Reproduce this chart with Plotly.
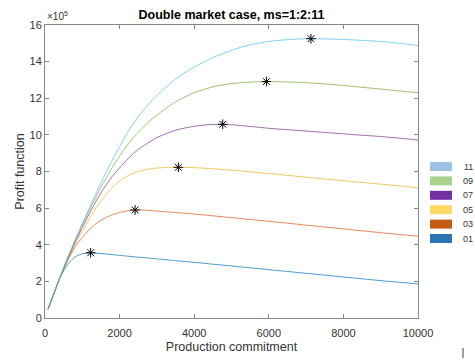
import plotly.graph_objects as go

# ---- data (profit in units of 1e5) ----
x_grid = [80, 200, 400, 600, 800, 1000, 1200, 1400, 1600, 1800, 2000, 2250, 2500, 2750,
          3000, 3500, 4000, 4500, 5000, 5500, 6000, 6500, 7000, 7500, 8000, 8500, 9000,
          9500, 10000]

profit_01 = [0.48, 1.12, 2.2, 2.9, 3.33, 3.5, 3.56, 3.54, 3.5, 3.46, 3.42, 3.37, 3.32, 3.28,
             3.23, 3.13, 3.04, 2.94, 2.84, 2.74, 2.64, 2.54, 2.44, 2.34, 2.24, 2.14, 2.04,
             1.95, 1.86]
profit_03 = [0.48, 1.12, 2.2, 3.1, 3.85, 4.4, 4.85, 5.2, 5.45, 5.63, 5.76, 5.87, 5.9, 5.88,
             5.84, 5.76, 5.68, 5.58, 5.48, 5.38, 5.28, 5.18, 5.07, 4.97, 4.87, 4.76, 4.66,
             4.56, 4.47]
profit_05 = [0.48, 1.12, 2.2, 3.15, 4.0, 4.75, 5.45, 6.1, 6.65, 7.12, 7.48, 7.8, 8.0, 8.12,
             8.19, 8.23, 8.21, 8.15, 8.07, 7.98, 7.89, 7.79, 7.69, 7.59, 7.5, 7.4, 7.31,
             7.21, 7.11]
profit_07 = [0.48, 1.12, 2.2, 3.2, 4.1, 4.95, 5.75, 6.5, 7.15, 7.72, 8.2, 8.75, 9.2, 9.55,
             9.85, 10.25, 10.47, 10.57, 10.55, 10.46, 10.36, 10.28, 10.21, 10.13, 10.06,
             9.98, 9.91, 9.82, 9.72]
profit_09 = [0.48, 1.12, 2.2, 3.25, 4.2, 5.1, 5.95, 6.75, 7.5, 8.2, 8.85, 9.55, 10.15, 10.65,
             11.08, 11.8, 12.3, 12.62, 12.8, 12.88, 12.91, 12.89, 12.85, 12.78, 12.7, 12.6,
             12.5, 12.4, 12.3]
profit_11 = [0.48, 1.12, 2.2, 3.25, 4.2, 5.15, 6.05, 6.95, 7.8, 8.6, 9.35, 10.25, 11.0, 11.62,
             12.15, 13.05, 13.7, 14.22, 14.62, 14.92, 15.1, 15.2, 15.25, 15.24, 15.21, 15.16,
             15.1, 15.0, 14.88]

peak_x = [1225, 2415, 3575, 4765, 5935, 7130]
peak_y = [3.56, 5.9, 8.23, 10.58, 12.91, 15.25]

series_names = ["01", "03", "05", "07", "09", "11"]
series_values = [profit_01, profit_03, profit_05, profit_07, profit_09, profit_11]

# ---- styles ----
line_colors = ["#0072BD", "#D95319", "#EDB120", "#7E2F8E", "#77AC30", "#4DBEEE"]
legend_colors = ["#2E75B6", "#C55A11", "#FFD966", "#7030A0", "#A9D18E", "#9DC3E6"]

fig = go.Figure()
for name, vals, col in zip(series_names, series_values, line_colors):
    fig.add_trace(go.Scatter(
        x=x_grid, y=vals, mode="lines", name=name, showlegend=False,
        line=dict(color=col, width=1, shape="spline", smoothing=0.8), opacity=0.7))

fig.add_trace(go.Scatter(
    x=peak_x, y=peak_y, mode="markers", showlegend=False,
    marker=dict(symbol="asterisk-open", size=8, color="black",
                line=dict(color="black", width=1))))

axis_col = "#7d8a92"
FONT = "Liberation Sans, Arial"
tick_font = dict(family=FONT, size=11, color="#333333")

fig.update_layout(
    width=475, height=360,
    margin=dict(l=45, r=57, t=25, b=42),
    paper_bgcolor="white", plot_bgcolor="white",
    showlegend=False,
    title=dict(text="<b>Double market case, ms=1:2:11</b>", x=(45 + 418) / 2 / 475,
               xanchor="center", y=1 - 15 / 360, yanchor="middle",
               font=dict(family=FONT, size=12.5, color="black")),
    xaxis=dict(range=[0, 10000], dtick=2000, tickformat="d", showgrid=False, zeroline=False,
               showline=True, linecolor=axis_col, linewidth=1, mirror="ticks",
               ticks="inside", ticklen=4, tickcolor=axis_col, tickfont=tick_font,
               ticklabelstandoff=5, automargin=False,
               title=dict(text="Production commitment", standoff=4,
                          font=dict(family=FONT, size=12.5, color="#333333"))),
    yaxis=dict(range=[0, 16], dtick=2, tickformat="d", showgrid=False, zeroline=False,
               showline=True, linecolor=axis_col, linewidth=1, mirror="ticks",
               ticks="inside", ticklen=4, tickcolor=axis_col, tickfont=tick_font,
               automargin=False,
               title=dict(text="Profit function", standoff=2,
                          font=dict(family=FONT, size=12.5, color="#333333"))),
)

# exponent label
fig.add_annotation(text="×10<sup>5</sup>", xref="paper", yref="paper", x=0, y=1,
                   xanchor="left", yanchor="bottom", showarrow=False, yshift=1,
                   font=dict(family=FONT, size=10, color="#333333"))

# manual legend (colour boxes + labels), top to bottom: 11 ... 01
legend_order = list(range(len(series_names)))[::-1]
row_top = 162
row_gap = 14.4
for i, idx in enumerate(legend_order):
    yc = row_top + i * row_gap + 4.5
    fig.add_shape(type="rect", xref="paper", yref="paper",
                  x0=(430 - 45) / 373, x1=(452 - 45) / 373,
                  y0=(318 - (yc + 4.5)) / 293, y1=(318 - (yc - 4.5)) / 293,
                  fillcolor=legend_colors[idx], line=dict(width=0))
    fig.add_annotation(text=series_names[idx], xref="paper", yref="paper",
                       x=(474 - 45) / 373, y=(318 - yc) / 293, xanchor="right",
                       yanchor="middle", showarrow=False, borderpad=0,
                       font=dict(family=FONT, size=9, color="#333333"))

# small cursor mark at bottom right
fig.add_shape(type="line", xref="paper", yref="paper",
              x0=(463 - 45) / 373, x1=(463 - 45) / 373,
              y0=(318 - 358) / 293, y1=(318 - 348) / 293,
              line=dict(color="#444444", width=1))

fig.write_html("out.html",
               config={"displayModeBar": False},
               post_script="document.body.style.margin='0';"
                           "document.body.style.overflow='hidden';")
